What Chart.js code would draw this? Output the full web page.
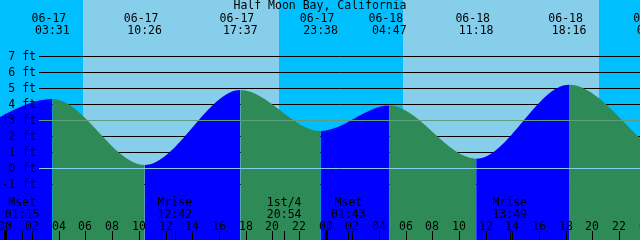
<!DOCTYPE html>
<html>
<head>
<meta charset="utf-8">
<script src="https://cdn.jsdelivr.net/npm/chart.js@4.4.1/dist/chart.umd.min.js"></script>
<style>
  html, body { margin: 0; padding: 0; background: #fff; overflow: hidden; }
  canvas { display: block; }
</style>
</head>
<body>
<canvas id="tide" width="640" height="240"></canvas>
<script>
// --- Data ---
const stationName = 'Half Moon Bay, California';
// tide extremes, first and last fall outside the plotted window (estimated)
const tideStamps = ['06-16 21:00', '06-17 03:31', '06-17 10:26', '06-17 17:37', '06-17 23:38',
                    '06-18 04:47', '06-18 11:18', '06-18 18:16', '06-19 00:38'];
const tideHeights = [2.1, 4.31, 0.19, 4.88, 2.31, 3.90, 0.58, 5.21, 1.1];
// sunrise / sunset pairs
const sunStamps = ['06-17 05:49', '06-17 20:30', '06-18 05:49', '06-18 20:30'];
// moon events along the bottom
const moonStamps = ['06-17 01:15', '06-17 12:42', '06-17 20:54', '06-18 01:43', '06-18 13:49'];
const moonNames = ['Mset', 'Mrise', '1st/4', 'Mset', 'Mrise'];
// axis ticks
const heightTicks = [7, 6, 5, 4, 3, 2, 1, 0, -1];
const hourTicks = [0, 2, 4, 6, 8, 10, 12, 14, 16, 18, 20, 22, 24, 26, 28, 30, 32, 34, 36, 38, 40, 42, 44, 46, 48];
const nowStamp = '06-17 00:00';
const nowHeight = 3.2;

// --- Helpers ---
const FONT = '11.5px "DejaVu Sans Mono", "Liberation Mono", monospace';
const COLORS = {
  night: '#00bfff',
  day: '#87ceeb',
  rise: '#0000ff',
  fall: '#2e8b57',
  grid: '#000000',
  mean: '#5f9e7e',
  datum: '#87ceeb'
};

// 'MM-DD HH:MM' -> hours since 06-17 00:00
function toHours(stamp) {
  const [date, time] = stamp.split(' ');
  const day = Number(date.split('-')[1]);
  const [h, m] = time.split(':').map(Number);
  return (day - 17) * 24 + h + m / 60;
}

function timeOf(stamp) { return stamp.split(' ')[1]; }
function dateOf(stamp) { return stamp.split(' ')[0]; }

const points = tideStamps.map((s, i) => ({ x: toHours(s), y: tideHeights[i] }));

// --- Drawing plugin: bands, grid, labels ---
const tideDecor = {
  id: 'tideDecor',
  beforeDraw(chart) {
    const { ctx, chartArea: a } = chart;
    const xs = chart.scales.x, ys = chart.scales.y;
    ctx.save();
    // night background then day bands
    ctx.fillStyle = COLORS.night;
    ctx.fillRect(a.left, a.top, a.width, a.height);
    ctx.fillStyle = COLORS.day;
    for (let i = 0; i + 1 < sunStamps.length; i += 2) {
      const x0 = Math.round(xs.getPixelForValue(toHours(sunStamps[i])));
      const x1 = Math.round(xs.getPixelForValue(toHours(sunStamps[i + 1])));
      ctx.fillRect(x0, a.top, x1 - x0, a.height);
    }
    // black height lines (hidden behind the water)
    ctx.strokeStyle = COLORS.grid;
    ctx.lineWidth = 1;
    heightTicks.forEach(v => {
      if (v === 3 || v === 0) return;
      const y = Math.round(ys.getPixelForValue(v)) + 0.5;
      ctx.beginPath();
      ctx.moveTo(39, y);
      ctx.lineTo(a.right, y);
      ctx.stroke();
    });
    ctx.restore();
  },
  afterDraw(chart) {
    const { ctx, chartArea: a } = chart;
    const xs = chart.scales.x, ys = chart.scales.y;
    ctx.save();

    // mean and datum lines drawn over the water
    [[3, COLORS.mean], [0, COLORS.datum]].forEach(([v, c]) => {
      const y = Math.round(ys.getPixelForValue(v)) + 0.5;
      ctx.strokeStyle = c;
      ctx.lineWidth = 1;
      ctx.beginPath();
      ctx.moveTo(39, y);
      ctx.lineTo(a.right, y);
      ctx.stroke();
    });

    ctx.font = FONT;
    ctx.fillStyle = '#000';

    // height labels
    ctx.textAlign = 'right';
    heightTicks.forEach(v => {
      const y = Math.round(ys.getPixelForValue(v));
      ctx.fillText(`${v} ft`, 36, y + 4);
    });

    // small cross at the start of the plot
    const nx = Math.round(xs.getPixelForValue(toHours(nowStamp)));
    const ny = Math.round(ys.getPixelForValue(nowHeight));
    ctx.fillRect(nx - 3, ny, 7, 1);
    ctx.fillRect(nx, ny - 3, 1, 7);

    // title
    ctx.textAlign = 'center';
    ctx.fillText(stationName, 320, 9);

    // tide extreme labels
    tideStamps.forEach(s => {
      const x = xs.getPixelForValue(toHours(s));
      ctx.fillText(dateOf(s) + ' ', x, 22);
      ctx.fillText(timeOf(s), x, 34);
    });

    // hour ticks + labels
    hourTicks.forEach(h => {
      const x = Math.round(xs.getPixelForValue(h));
      const lbl = String(h % 24).padStart(2, '0');
      ctx.fillText(lbl, x, 230);
      if (h % 24 === 0) ctx.fillRect(x - 1, 230, 3, 10);
      else ctx.fillRect(x, 231, 1, 9);
    });

    // moon events
    moonStamps.forEach((s, i) => {
      const x = xs.getPixelForValue(toHours(s));
      ctx.fillText(moonNames[i], x, 206);
      ctx.fillText(timeOf(s), x, 218);
      ctx.fillRect(Math.round(x), 231, 1, 9);
    });

    ctx.restore();
  }
};

// --- Chart ---
const xMin = -0.4125;
const xMax = xMin + 48;
const canvas = document.getElementById('tide');
new Chart(canvas.getContext('2d'), {
  type: 'line',
  data: {
    datasets: [{
      data: points,
      parsing: false,
      fill: 'start',
      backgroundColor: COLORS.fall,
      borderColor: 'transparent',
      borderWidth: 0,
      pointRadius: 0,
      cubicInterpolationMode: 'monotone',
      segment: {
        backgroundColor: c => (c.p1.parsed.y > c.p0.parsed.y ? COLORS.rise : COLORS.fall)
      }
    }]
  },
  options: {
    responsive: false,
    animation: false,
    devicePixelRatio: 1,
    layout: { padding: 0 },
    scales: {
      // window set after data limits so the off-screen extremes stay in the line
      x: {
        type: 'linear', display: false, bounds: 'data',
        afterDataLimits: (scale) => { scale.min = xMin; scale.max = xMax; }
      },
      y: { type: 'linear', display: false, min: -4.5, max: 10.5 }
    },
    plugins: {
      legend: { display: false },
      tooltip: { enabled: false },
      title: { display: false }
    }
  },
  plugins: [tideDecor]
});
</script>
</body>
</html>
